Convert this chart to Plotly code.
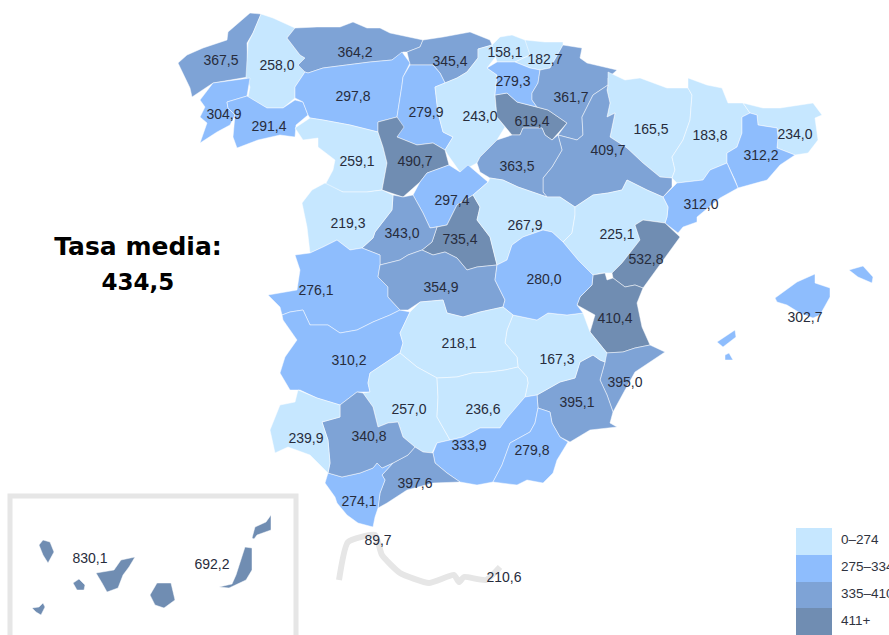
import plotly.graph_objects as go

# ---- data ----
PROVINCIAS = ["A Coruña","Lugo","Asturias","Cantabria","Pontevedra","Ourense","León","Palencia","Burgos","La Rioja",
 "Bizkaia","Gipuzkoa","Araba","Navarra","Huesca","Lleida","Girona","Barcelona","Tarragona","Zaragoza","Soria",
 "Zamora","Valladolid","Segovia","Madrid","Ávila","Salamanca","Cáceres","Badajoz","Toledo","Guadalajara","Teruel",
 "Castellón","Valencia","Alicante","Murcia","Albacete","Cuenca","Ciudad Real","Córdoba","Jaén","Granada","Almería",
 "Málaga","Cádiz","Sevilla","Huelva","Baleares","Santa Cruz de Tenerife","Las Palmas","Ceuta","Melilla"]
TASAS = [367.5,258.0,364.2,345.4,304.9,291.4,297.8,279.9,243.0,619.4,
 158.1,182.7,279.3,361.7,165.5,183.8,234.0,312.2,312.0,409.7,363.5,
 259.1,490.7,297.4,735.4,343.0,219.3,276.1,310.2,354.9,267.9,225.1,
 532.8,410.4,395.0,395.1,167.3,280.0,218.1,257.0,236.6,333.9,279.8,
 397.6,274.1,340.8,239.9,302.7,830.1,692.2,89.7,210.6]
LEYENDA = ["0–274","275–334","335–410","411+"]
TITULO = ["Tasa media:","434,5"]

# ---- geometry of the province outlines (map coordinates) ----
OUTLINES = {
"A Coruña":[[(178,63),(187,55),(203,48),(227,40),(228,32),(250,13),(261,14),(253,33),(247,43),(248,77),(213,83),(192,97),(190,88),(182,72)]],
"Lugo":[[(261,14),(273,18),(295,28),(287,38),(300,55),(305,58),(298,65),(305,72),(295,87),(295,98),(283,108),(267,108),(248,97),(250,87),(246,77),(248,43),(253,33)]],
"Asturias":[[(295,28),(317,27),(340,27),(353,22),(367,28),(380,28),(390,33),(410,37),(423,40),(420,47),(407,52),(403,52),(392,60),(370,62),(323,68),(308,73),(305,72),(298,65),(305,58),(300,55),(287,38)]],
"Cantabria":[[(423,40),(443,37),(470,32),(490,40),(492,45),(478,49),(478,58),(467,72),(457,78),(445,83),(440,73),(433,65),(410,65),(407,52),(420,47)]],
"Pontevedra":[[(250,78),(213,83),(200,100),(205,107),(200,117),(207,123),(200,143),(217,132),(230,125),(235,115),(228,108),(227,102),(247,96)]],
"Ourense":[[(227,102),(247,96),(267,108),(283,108),(295,100),(303,102),(308,115),(296,125),(295,137),(280,135),(258,140),(237,148),(233,137),(235,115),(228,108)]],
"León":[[(308,73),(323,68),(370,62),(392,60),(402,52),(410,63),(403,77),(402,85),(397,117),(378,122),(378,132),(350,125),(323,120),(310,118),(308,115),(303,102),(295,98),(295,87),(305,72)]],
"Palencia":[[(410,65),(433,65),(440,73),(445,83),(435,87),(438,113),(443,132),(453,137),(445,150),(433,143),(417,145),(397,137),(402,127),(397,117),(402,85),(403,77)]],
"Burgos":[[(435,87),(445,83),(457,78),(467,72),(478,58),(478,49),(492,45),(497,55),(487,68),(497,75),(495,95),(497,117),(505,127),(497,140),(480,157),(477,163),(460,172),(448,155),(445,150),(453,137),(443,132),(438,113)]],
"La Rioja":[[(495,95),(507,93),(517,102),(537,107),(548,110),(567,123),(558,133),(552,140),(545,135),(542,128),(523,128),(520,135),(512,135),(505,127),(497,117)]],
"Bizkaia":[[(492,45),(500,37),(512,35),(525,40),(535,43),(530,55),(515,62),(497,62),(494,52)]],
"Gipuzkoa":[[(525,40),(545,42),(563,42),(563,45),(550,68),(540,70),(530,68),(515,62),(530,55)]],
"Araba":[[(497,62),(515,62),(530,68),(540,70),(538,83),(532,93),(532,100),(537,107),(517,102),(507,93),(495,95),(497,75),(487,68)]],
"Navarra":[[(550,68),(563,45),(582,48),(580,58),(587,63),(617,70),(608,78),(608,85),(593,95),(587,107),(582,117),(583,135),(577,140),(558,135),(567,123),(548,110),(537,107),(532,100),(532,93),(538,83),(540,70)]],
"Huesca":[[(608,72),(625,80),(640,78),(667,88),(688,88),(692,95),(690,120),(683,140),(672,157),(675,170),(672,178),(660,177),(643,163),(627,148),(610,137),(615,113),(607,117),(610,103),(607,90),(608,85)]],
"Lleida":[[(688,78),(707,85),(722,88),(728,103),(743,103),(750,113),(742,117),(742,133),(737,147),(727,153),(727,163),(710,170),(703,180),(677,183),(672,178),(675,170),(672,157),(683,140),(690,120),(692,95),(688,88)]],
"Girona":[[(743,103),(763,108),(780,108),(813,103),(822,115),(815,118),(818,140),(808,153),(795,155),(777,148),(778,137),(777,128),(758,125),(757,115),(750,113)]],
"Barcelona":[[(742,117),(750,113),(757,115),(758,125),(777,128),(778,137),(777,148),(795,155),(780,165),(767,180),(738,188),(735,180),(727,163),(727,153),(737,147),(742,133)]],
"Tarragona":[[(727,163),(735,180),(738,188),(720,198),(697,217),(697,222),(683,227),(678,233),(665,223),(667,217),(668,207),(663,197),(677,183),(703,180),(710,170)]],
"Zaragoza":[[(608,85),(607,90),(610,103),(607,117),(615,113),(610,137),(627,148),(643,163),(660,177),(672,178),(672,187),(663,197),(647,190),(627,180),(622,190),(608,193),(593,195),(575,207),(560,197),(547,197),(543,192),(543,178),(552,167),(562,150),(558,135),(577,140),(583,135),(582,117),(587,107),(593,95)]],
"Soria":[[(480,157),(497,140),(512,135),(520,135),(523,128),(542,128),(545,135),(552,140),(558,135),(562,150),(552,167),(543,178),(543,192),(547,197),(518,187),(503,180),(490,178),(480,172),(477,163)]],
"Zamora":[[(295,128),(310,118),(323,120),(350,125),(378,132),(383,147),(387,163),(382,190),(367,192),(343,192),(325,185),(333,170),(335,160),(318,147),(318,138),(303,140)]],
"Valladolid":[[(378,122),(397,117),(404,127),(397,137),(417,145),(433,143),(445,150),(449,165),(427,173),(420,182),(403,197),(382,190),(387,163),(383,147),(378,132)]],
"Segovia":[[(449,165),(460,172),(468,165),(488,182),(473,195),(457,205),(447,225),(430,228),(423,213),(413,195),(420,182),(427,173)]],
"Madrid":[[(473,195),(480,207),(477,220),(490,237),(497,265),(477,267),(467,270),(457,258),(445,252),(433,255),(422,250),(432,242),(437,227),(447,225),(457,205)]],
"Ávila":[[(393,195),(403,197),(413,195),(423,213),(430,228),(437,227),(432,242),(422,250),(408,255),(400,260),(380,265),(380,255),(362,248),(373,238),(375,232),(392,210)]],
"Salamanca":[[(312,190),(325,183),(343,192),(367,192),(382,190),(393,195),(392,210),(375,232),(373,238),(362,248),(350,250),(337,240),(323,247),(310,253),(307,227),(302,203)]],
"Cáceres":[[(295,255),(310,253),(323,247),(337,240),(350,250),(362,248),(380,255),(380,265),(378,277),(388,287),(388,297),(400,310),(390,315),(373,322),(357,330),(340,333),(328,325),(310,325),(303,310),(290,312),(282,315),(280,307),(268,295),(297,290),(300,270)]],
"Badajoz":[[(282,315),(290,312),(303,310),(310,325),(328,325),(340,333),(357,330),(373,322),(390,315),(400,310),(410,312),(400,333),(403,343),(400,353),(370,373),(368,383),(370,392),(357,392),(340,405),(317,398),(300,390),(290,390),(280,373),(285,357),(297,340),(283,320)]],
"Toledo":[[(380,265),(400,260),(408,255),(422,250),(433,255),(445,252),(457,258),(467,270),(477,267),(497,265),(495,280),(505,300),(503,307),(480,312),(463,317),(447,313),(443,300),(420,302),(408,310),(400,310),(388,297),(388,287),(378,277)]],
"Guadalajara":[[(488,182),(490,178),(503,180),(518,187),(547,197),(560,197),(575,207),(575,215),(572,233),(563,242),(552,232),(543,230),(523,237),(512,245),(507,260),(497,265),(490,237),(477,220),(480,207),(473,195)]],
"Teruel":[[(575,207),(593,195),(608,193),(622,190),(627,180),(647,190),(663,197),(668,207),(667,217),(665,223),(643,220),(635,225),(640,240),(622,263),(612,273),(602,273),(593,275),(588,270),(578,260),(563,242),(572,233),(575,215)]],
"Castellón":[[(643,220),(665,223),(680,237),(663,260),(643,288),(635,285),(625,287),(613,278),(612,273),(622,263),(640,240),(635,225)]],
"Valencia":[[(593,275),(605,273),(607,280),(613,278),(625,287),(635,285),(643,288),(637,303),(642,327),(650,345),(635,348),(623,352),(607,353),(590,332),(595,315),(577,305),(580,297),(592,285)]],
"Alicante":[[(605,353),(623,352),(635,348),(650,345),(665,352),(648,363),(635,372),(625,390),(613,412),(607,395),(600,380),(605,362)]],
"Murcia":[[(593,355),(600,360),(605,362),(600,380),(607,395),(613,412),(610,423),(617,427),(590,430),(570,442),(560,437),(552,423),(550,412),(538,408),(537,395),(560,382),(575,378),(580,362)]],
"Albacete":[[(513,315),(537,320),(548,313),(567,315),(583,313),(590,332),(607,353),(605,362),(600,360),(593,355),(580,362),(575,378),(560,382),(537,395),(525,397),(528,383),(527,377),(518,367),(517,357),(505,343),(507,330)]],
"Cuenca":[[(512,245),(523,237),(543,230),(552,232),(563,242),(578,260),(588,270),(593,275),(592,285),(580,297),(577,305),(583,313),(567,315),(548,313),(537,320),(513,315),(503,307),(505,300),(495,280),(497,265),(507,260)]],
"Ciudad Real":[[(410,312),(420,302),(443,300),(447,313),(463,317),(480,312),(503,307),(513,315),(507,330),(505,343),(517,357),(518,367),(505,370),(490,372),(472,373),(457,377),(437,378),(417,367),(400,353),(403,343),(400,333)]],
"Córdoba":[[(400,353),(417,367),(437,378),(438,397),(437,417),(450,440),(437,443),(432,453),(423,452),(415,447),(403,437),(398,422),(388,423),(378,427),(373,407),(363,393),(370,392),(368,383),(370,373)]],
"Jaén":[[(437,378),(457,377),(472,373),(490,372),(505,370),(518,367),(527,377),(528,383),(525,397),(507,418),(500,428),(480,428),(463,437),(450,440),(437,417),(438,397)]],
"Granada":[[(450,440),(463,437),(480,428),(500,428),(507,418),(525,397),(537,395),(538,408),(535,423),(530,432),(510,443),(502,465),(493,482),(477,485),(460,482),(447,473),(435,463),(433,453),(437,443)]],
"Almería":[[(538,408),(550,412),(552,423),(560,437),(568,442),(557,460),(553,473),(543,483),(527,480),(517,485),(493,482),(502,465),(510,443),(530,432),(535,423)]],
"Málaga":[[(433,453),(435,463),(447,473),(460,482),(433,483),(407,490),(387,503),(378,508),(380,493),(385,480),(382,475),(393,463),(408,455),(415,447),(423,452)]],
"Cádiz":[[(328,473),(342,477),(360,473),(373,468),(377,463),(382,468),(393,463),(382,475),(385,480),(380,493),(378,508),(375,517),(373,527),(358,523),(347,515),(337,503),(335,497),(325,483)]],
"Sevilla":[[(357,392),(363,393),(373,407),(378,427),(388,423),(398,422),(403,437),(415,447),(408,455),(393,463),(382,468),(377,463),(373,468),(360,473),(342,477),(328,473),(330,463),(328,440),(322,422),(340,417),(340,405)]],
"Huelva":[[(298,390),(317,398),(340,405),(340,417),(322,422),(328,440),(330,463),(328,473),(310,455),(288,447),(275,453),(270,430),(280,405),(295,402)]],
"Baleares":[[(775,298),(797,282),(815,274),(815,283),(830,288),(830,297),(820,315),(813,318),(800,313),(787,305),(777,302)],
 [(849,270),(863,266),(873,277),(872,283),(858,277)],
 [(717,342),(735,330),(736,337),(723,347)],
 [(725,355),(729,353),(733,360),(725,360)]],
"Santa Cruz de Tenerife":[[(39,545),(43,540),(50,542),(54,552),(48,563),(43,555)],
 [(96,573),(114,570),(121,560),(135,557),(129,567),(123,575),(118,588),(107,592),(102,583)],
 [(73,583),(79,579),(85,585),(84,590),(77,590)],
 [(32,608),(39,607),(43,603),(45,607),(41,615),(36,612)]],
"Las Palmas":[[(150,595),(157,583),(171,583),(175,600),(164,608),(155,605)],
 [(219,587),(232,584),(236,575),(245,547),(252,548),(252,570),(246,580),(229,588)],
 [(252,538),(255,527),(266,522),(271,515),(271,530),(257,535),(254,539)]],
}
# where each figure is printed
ETIQUETAS = {
"A Coruña":(221,61),"Lugo":(277,66),"Asturias":(355,53),"Cantabria":(450,62),"Pontevedra":(224,115),"Ourense":(269,127),
"León":(353,97),"Palencia":(426,113),"Burgos":(480,117),"La Rioja":(532,122),"Bizkaia":(505,53),"Gipuzkoa":(545,60),
"Araba":(513,82),"Navarra":(571,98),"Huesca":(651,130),"Lleida":(710,136),"Girona":(795,135),"Barcelona":(761,156),
"Tarragona":(701,205),"Zaragoza":(608,151),"Soria":(517,167),"Zamora":(357,162),"Valladolid":(415,162),"Segovia":(452,201),
"Madrid":(460,240),"Ávila":(402,234),"Salamanca":(348,224),"Cáceres":(316,291),"Badajoz":(349,361),"Toledo":(441,288),
"Guadalajara":(525,226),"Teruel":(617,235),"Castellón":(646,260),"Valencia":(615,319),"Alicante":(625,383),"Murcia":(577,403),
"Albacete":(557,360),"Cuenca":(544,280),"Ciudad Real":(459,344),"Córdoba":(409,410),"Jaén":(483,410),"Granada":(469,446),
"Almería":(532,451),"Málaga":(415,484),"Cádiz":(359,502),"Sevilla":(369,437),"Huelva":(306,439),"Baleares":(805,318),
"Santa Cruz de Tenerife":(90,559),"Las Palmas":(212,565),"Ceuta":(378,541),"Melilla":(504,578),
}
COLORES = ["#c6e7ff","#8ebdfd","#7ea3d6","#708db2"]
LIMITES = [274, 335, 410]

def clase(v):
    return sum(v >= l for l in LIMITES)

def fmt(v):
    return f"{v:.1f}".replace(".", ",")

fig = go.Figure()
# inset frame and the Ceuta / Melilla sketch line
MARCO_X = [10,10,296,296]; MARCO_Y = [640,496,496,640]
fig.add_trace(go.Scatter(x=MARCO_X, y=MARCO_Y, mode="lines", line=dict(color="#e6e6e6", width=5), hoverinfo="skip"))
COSTA_X = [339,348,375,382,400,429,454,459,464,486,500]
COSTA_Y = [580,542,535,555,573,583,575,582,577,580,567]
fig.add_trace(go.Scatter(x=COSTA_X, y=COSTA_Y, mode="lines", line=dict(color="#e6e6e6", width=6, shape="spline", smoothing=0.5), hoverinfo="skip"))

for nombre, v in zip(PROVINCIAS, TASAS):
    partes = OUTLINES.get(nombre)
    if not partes:
        continue
    xs, ys = [], []
    for p in partes:
        xs += [a for a, _ in p] + [p[0][0], None]
        ys += [b for _, b in p] + [p[0][1], None]
    fig.add_trace(go.Scatter(x=xs, y=ys, mode="lines", fill="toself", fillcolor=COLORES[clase(v)],
                             line=dict(color="rgba(255,255,255,0.6)", width=0.8), name=nombre, text=fmt(v), hoverinfo="name+text"))

fig.add_trace(go.Scatter(
    x=[ETIQUETAS[n][0] for n in PROVINCIAS], y=[ETIQUETAS[n][1] for n in PROVINCIAS],
    text=[fmt(v) for v in TASAS], mode="text", hoverinfo="skip",
    textfont=dict(family="Liberation Sans, Arial, sans-serif", size=14, color="#272c3c"), textposition="middle center"))

# legend
LEY_Y0 = [528,555,582,608]; LEY_Y1 = [555,582,608,635]
for c, y0, y1 in zip(COLORES, LEY_Y0, LEY_Y1):
    fig.add_shape(type="rect", x0=796, x1=832, y0=y0, y1=y1, fillcolor=c, line=dict(width=0), layer="below")
fig.add_trace(go.Scatter(x=[841]*4, y=[541,568,595,622], text=LEYENDA, mode="text", textposition="middle right",
    textfont=dict(family="Liberation Sans, Arial, sans-serif", size=13.5, color="#2f3340"), hoverinfo="skip"))

# title
fig.add_trace(go.Scatter(x=[138,138], y=[249,284], text=[f"<b>{t}</b>" for t in TITULO], mode="text", hoverinfo="skip",
    textfont=dict(family="DejaVu Sans, sans-serif", size=[25,23], color="#000000"), textposition="middle center"))

fig.update_layout(width=889, height=635, margin=dict(l=0, r=0, t=0, b=0), showlegend=False,
    paper_bgcolor="white", plot_bgcolor="white",
    xaxis=dict(range=[0,889], visible=False, fixedrange=True),
    yaxis=dict(range=[635,0], visible=False, fixedrange=True))
fig.write_html("out.html", config={"displayModeBar": False},
               post_script="document.body.style.margin='0';document.documentElement.style.overflow='hidden';")
